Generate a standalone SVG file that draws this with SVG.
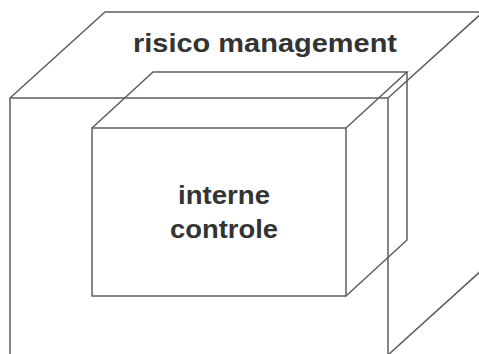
<svg xmlns="http://www.w3.org/2000/svg" width="479" height="354" viewBox="0 0 479 354">
<style>
.edge{fill:none;stroke:#5e5e5e;stroke-width:1.5;stroke-linejoin:miter}
.lbl{font-family:"Liberation Sans",Arial,sans-serif;font-weight:bold;font-size:25px;fill:#333;text-anchor:middle}
</style>
<rect width="479" height="354" fill="#fff"/>
<g id="risico-management">
<rect class="edge" x="10" y="98" width="378" height="257"/>
<polyline class="edge" points="10,98 105,12 483,12 388,98"/>
<line class="edge" x1="388" y1="355" x2="483" y2="269"/>
<text class="lbl" x="265" y="52" textLength="264" lengthAdjust="spacingAndGlyphs">risico management</text>
</g>
<g id="interne-controle">
<rect class="edge" x="92" y="128" width="254" height="168"/>
<polyline class="edge" points="92,128 153,72 407,72 346,128"/>
<polyline class="edge" points="407,72 407,240 346,296"/>
<text class="lbl" x="224" y="204" font-size="24" textLength="92" lengthAdjust="spacingAndGlyphs">interne</text>
<text class="lbl" x="224" y="237.5" font-size="24" textLength="108" lengthAdjust="spacingAndGlyphs">controle</text>
</g>
<g id="connectors"/>
</svg>
